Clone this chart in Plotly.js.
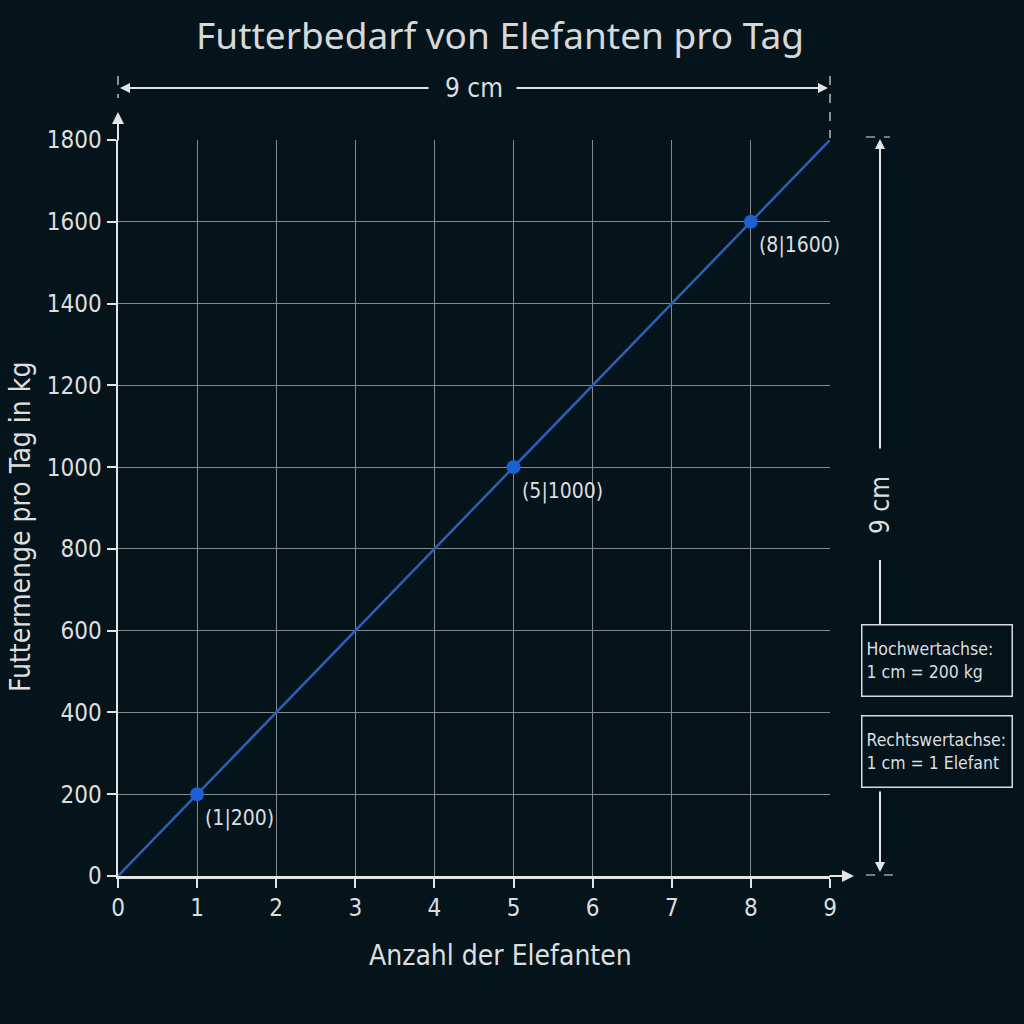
<!DOCTYPE html>
<html>
<head>
<meta charset="utf-8">
<script src="https://cdn.plot.ly/plotly-3.0.1.min.js"></script>
<style>
html,body{margin:0;padding:0;background:#04141a;}
#chart{width:1024px;height:1024px;}
</style>
</head>
<body>
<div id="chart"></div>
<script>
// Data
const elefanten = [0, 1, 2, 3, 4, 5, 6, 7, 8, 9];
const futter = [0, 200, 400, 600, 800, 1000, 1200, 1400, 1600, 1800];
const markX = [1, 5, 8];
const markY = [200, 1000, 1600];
const markLabels = ['(1|200)', '(5|1000)', '(8|1600)'];
const yTicks = [0, 200, 400, 600, 800, 1000, 1200, 1400, 1600, 1800];
const xTicks = [0, 1, 2, 3, 4, 5, 6, 7, 8, 9];

const BG = '#04141a';
const TXT = '#dcdfe0';
const GRID = '#83898c';
const AX = '#e2e4e5';
const FONT = 'DejaVu Sans Condensed, Roboto, sans-serif';

// layout geometry (pixels)
const L = 118, R = 830, T = 140, B = 876, W = 1024, H = 1024;
const pw = R - L, ph = B - T;
const px = v => (v - L) / pw;         // pixel x -> paper x
const py = v => (B - v) / ph;         // pixel y -> paper y

const traces = [
  {
    x: elefanten, y: futter, mode: 'lines', type: 'scatter',
    line: {color: '#2e5fb6', width: 2.5}, hoverinfo: 'skip', cliponaxis: false
  },
  {
    x: markX, y: markY, mode: 'markers', type: 'scatter',
    marker: {color: '#1b5fd2', size: 14}, hoverinfo: 'skip', cliponaxis: false
  }
];

const annotations = [];
markX.forEach((xv, i) => {
  annotations.push({
    x: xv, y: markY[i], xref: 'x', yref: 'y', text: markLabels[i],
    showarrow: false, xanchor: 'left', yanchor: 'middle', xshift: 6, yshift: -24,
    font: {family: FONT, size: 21, color: TXT}
  });
});

function arrow(hx, hy, tx, ty, size) {
  return {
    x: px(hx), y: py(hy), xref: 'paper', yref: 'paper',
    ax: tx - hx, ay: ty - hy, axref: 'pixel', ayref: 'pixel',
    showarrow: true, arrowhead: 2, arrowsize: size || 1.1, arrowwidth: 2,
    arrowcolor: AX, text: ''
  };
}

// axis titles
annotations.push({
  x: px(501), y: py(955), xref: 'paper', yref: 'paper', text: 'Anzahl der Elefanten',
  showarrow: false, xanchor: 'center', yanchor: 'middle',
  font: {family: FONT, size: 28, color: TXT}
});
annotations.push({
  x: px(20), y: py(527), xref: 'paper', yref: 'paper', text: 'Futtermenge pro Tag in kg',
  showarrow: false, xanchor: 'center', yanchor: 'middle', textangle: -90,
  font: {family: FONT, size: 28, color: TXT}
});

// axis arrow extensions
annotations.push(arrow(L, 112, L, T + 2, 1.2));
annotations.push(arrow(854, B, R - 2, B, 1.2));

// top dimension arrows
annotations.push(arrow(L + 2, 88, 430, 88, 1));
annotations.push(arrow(R - 2, 88, 515, 88, 1));
annotations.push({
  x: px(474), y: py(88), xref: 'paper', yref: 'paper', text: '9 cm', showarrow: false,
  font: {family: FONT, size: 26, color: TXT}, bgcolor: BG, xanchor: 'center', yanchor: 'middle',
  borderpad: 4
});

// right dimension arrows
annotations.push(arrow(880, 139, 880, 450, 1));
annotations.push(arrow(880, 872, 880, 790, 1));
annotations.push({
  x: px(880), y: py(505), xref: 'paper', yref: 'paper', text: '9 cm', showarrow: false,
  textangle: -90, font: {family: FONT, size: 26, color: TXT}, bgcolor: BG,
  xanchor: 'center', yanchor: 'middle', borderpad: 4
});

// scale boxes
annotations.push({
  x: px(861), y: py(624), xref: 'paper', yref: 'paper', xanchor: 'left', yanchor: 'top',
  text: 'Hochwertachse:<br>1 cm = 200 kg', align: 'left', showarrow: false,
  font: {family: FONT, size: 17.5, color: TXT}, bgcolor: BG, bordercolor: '#d8dadb',
  borderwidth: 1.5, borderpad: 4, width: 141, height: 62
});
annotations.push({
  x: px(861), y: py(715), xref: 'paper', yref: 'paper', xanchor: 'left', yanchor: 'top',
  text: 'Rechtswertachse:<br>1 cm = 1 Elefant', align: 'left', showarrow: false,
  font: {family: FONT, size: 17.5, color: TXT}, bgcolor: BG, bordercolor: '#d8dadb',
  borderwidth: 1.5, borderpad: 4, width: 141, height: 62
});

const shapes = [
  // top dimension dashed extension lines
  {type: 'line', xref: 'paper', yref: 'paper', x0: px(L), x1: px(L), y0: py(76), y1: py(98),
   line: {color: AX, width: 1.2, dash: 'dash'}},
  {type: 'line', xref: 'paper', yref: 'paper', x0: px(R), x1: px(R), y0: py(76), y1: py(138),
   line: {color: AX, width: 1.2, dash: 'dash'}},
  // right dimension dashed ticks
  {type: 'line', xref: 'paper', yref: 'paper', x0: px(866), x1: px(890), y0: py(137), y1: py(137),
   line: {color: AX, width: 1.2, dash: 'dash'}},
  {type: 'line', xref: 'paper', yref: 'paper', x0: px(866), x1: px(896), y0: py(875), y1: py(875),
   line: {color: AX, width: 1.2, dash: 'dash'}},
  // right dimension segment between label and box
  {type: 'line', xref: 'paper', yref: 'paper', x0: px(880), x1: px(880), y0: py(560), y1: py(625),
   line: {color: AX, width: 2}}
];

const layout = {
  width: W, height: H,
  paper_bgcolor: BG, plot_bgcolor: BG,
  margin: {l: L, r: W - R, t: T, b: H - B, pad: 0},
  showlegend: false,
  title: {
    text: 'Futterbedarf von Elefanten pro Tag',
    font: {family: 'Noto Sans, DejaVu Sans, sans-serif', size: 37, color: '#d6d9da'},
    x: 500 / W, xanchor: 'center', y: 1 - 36 / H, yanchor: 'middle'
  },
  xaxis: {
    range: [0, 9], tickvals: xTicks, ticktext: xTicks.map(String),
    showgrid: true, gridcolor: GRID, gridwidth: 1,
    zeroline: false, showline: true, linecolor: AX, linewidth: 2.5,
    ticks: 'outside', ticklen: 9, tickcolor: AX, tickwidth: 2,
    tickfont: {family: FONT, size: 24, color: TXT},
    fixedrange: true
  },
  yaxis: {
    range: [0, 1800], tickvals: yTicks, ticktext: yTicks.map(String),
    showgrid: true, gridcolor: GRID, gridwidth: 1,
    zeroline: false, showline: true, linecolor: AX, linewidth: 2.5,
    ticks: 'outside', ticklen: 9, tickcolor: AX, tickwidth: 2,
    tickfont: {family: FONT, size: 24, color: TXT},
    fixedrange: true
  },
  annotations: annotations,
  shapes: shapes
};

Plotly.newPlot('chart', traces, layout, {displayModeBar: false, staticPlot: true});
</script>
</body>
</html>
